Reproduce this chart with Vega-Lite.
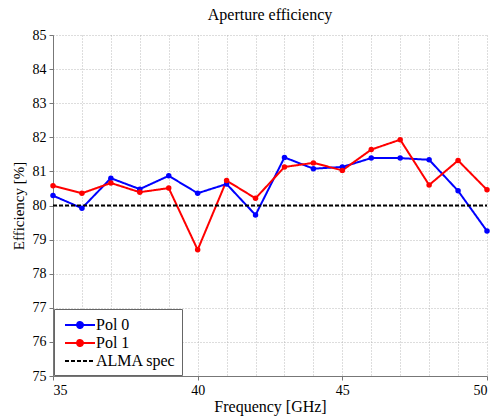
{
  "$schema": "https://vega.github.io/schema/vega-lite/v6.json",
  "width": 434,
  "height": 341,
  "autosize": {"type": "none"},
  "padding": {"left": 53, "top": 35, "right": 7, "bottom": 40},
  "title": {"text": "Aperture efficiency", "font": "Liberation Serif", "fontSize": 16, "fontWeight": "normal", "color": "black", "offset": 5},
  "config": {
    "view": {"stroke": null},
    "font": "Liberation Serif",
    "axis": {"labelFont": "Liberation Serif", "titleFont": "Liberation Serif", "labelOverlap": false, "labelColor": "black", "titleColor": "black", "titleFontWeight": "normal",
      "gridColor": "#aaaaaa", "gridDash": [1, 2], "gridWidth": 0.8, "domainColor": "#777777", "tickColor": "#777777", "tickSize": 4},
    "legend": {"labelFont": "Liberation Serif", "titleFont": "Liberation Serif"}
  },
  "data": {"values": [
    {"freq": 35, "eff": 80.29, "series": "Pol 0"},
    {"freq": 36, "eff": 79.92, "series": "Pol 0"},
    {"freq": 37, "eff": 80.8, "series": "Pol 0"},
    {"freq": 38, "eff": 80.48, "series": "Pol 0"},
    {"freq": 39, "eff": 80.87, "series": "Pol 0"},
    {"freq": 40, "eff": 80.36, "series": "Pol 0"},
    {"freq": 41, "eff": 80.63, "series": "Pol 0"},
    {"freq": 42, "eff": 79.72, "series": "Pol 0"},
    {"freq": 43, "eff": 81.41, "series": "Pol 0"},
    {"freq": 44, "eff": 81.08, "series": "Pol 0"},
    {"freq": 45, "eff": 81.13, "series": "Pol 0"},
    {"freq": 46, "eff": 81.39, "series": "Pol 0"},
    {"freq": 47, "eff": 81.39, "series": "Pol 0"},
    {"freq": 48, "eff": 81.34, "series": "Pol 0"},
    {"freq": 49, "eff": 80.43, "series": "Pol 0"},
    {"freq": 50, "eff": 79.25, "series": "Pol 0"},
    {"freq": 35, "eff": 80.58, "series": "Pol 1"},
    {"freq": 36, "eff": 80.36, "series": "Pol 1"},
    {"freq": 37, "eff": 80.66, "series": "Pol 1"},
    {"freq": 38, "eff": 80.39, "series": "Pol 1"},
    {"freq": 39, "eff": 80.51, "series": "Pol 1"},
    {"freq": 40, "eff": 78.7, "series": "Pol 1"},
    {"freq": 41, "eff": 80.73, "series": "Pol 1"},
    {"freq": 42, "eff": 80.21, "series": "Pol 1"},
    {"freq": 43, "eff": 81.13, "series": "Pol 1"},
    {"freq": 44, "eff": 81.25, "series": "Pol 1"},
    {"freq": 45, "eff": 81.03, "series": "Pol 1"},
    {"freq": 46, "eff": 81.64, "series": "Pol 1"},
    {"freq": 47, "eff": 81.93, "series": "Pol 1"},
    {"freq": 48, "eff": 80.6, "series": "Pol 1"},
    {"freq": 49, "eff": 81.32, "series": "Pol 1"},
    {"freq": 50, "eff": 80.46, "series": "Pol 1"},
    {"freq": 35, "eff": 80, "series": "ALMA spec"},
    {"freq": 50, "eff": 80, "series": "ALMA spec"}
  ]},
  "encoding": {
    "x": {"field": "freq", "type": "quantitative", "scale": {"domain": [35, 50], "nice": false},
      "axis": {"grid": true, "title": "Frequency [GHz]", "format": "d",
        "values": [35, 35.5, 36, 36.5, 37, 37.5, 38, 38.5, 39, 39.5, 40, 40.5, 41, 41.5, 42, 42.5, 43, 43.5, 44, 44.5, 45, 45.5, 46, 46.5, 47, 47.5, 48, 48.5, 49, 49.5, 50],
        "labelExpr": "datum.value % 5 === 0 ? datum.label : ''",
        "tickOpacity": {"condition": {"test": "datum.value % 5 !== 0", "value": 0}, "value": 1},
        "labelFontSize": 14, "titleFontSize": 16, "labelPadding": 3, "titlePadding": 1}},
    "y": {"field": "eff", "type": "quantitative", "scale": {"domain": [75, 85], "nice": false},
      "axis": {"grid": true, "title": "Efficiency [%]", "format": "d",
        "values": [75, 75.5, 76, 76.5, 77, 77.5, 78, 78.5, 79, 79.5, 80, 80.5, 81, 81.5, 82, 82.5, 83, 83.5, 84, 84.5, 85],
        "labelExpr": "datum.value % 1 === 0 ? datum.label : ''",
        "tickOpacity": {"condition": {"test": "datum.value % 1 !== 0", "value": 0}, "value": 1},
        "labelFontSize": 14, "titleFontSize": 15, "labelPadding": 3, "titlePadding": 6}}
  },
  "layer": [
    {
      "mark": {"type": "line", "strokeWidth": 2},
      "encoding": {
        "color": {"field": "series", "type": "nominal", "sort": ["Pol 0", "Pol 1", "ALMA spec"],
          "scale": {"domain": ["Pol 0", "Pol 1", "ALMA spec"], "range": ["#0000ff", "#ff0000", "#000000"]},
          "legend": {"title": null, "orient": "bottom-left", "offset": 1, "symbolType": "M-0.556,0L2.778,0", "symbolSize": 324, "symbolStrokeWidth": 2,
            "labelFontSize": 16, "labelColor": "black", "strokeColor": "#666666", "fillColor": "white", "padding": 6, "rowPadding": 0, "labelOffset": 16,
            "encode": {"symbols": {"update": {"shape": [{"test": "datum.value === 'ALMA spec'", "value": "M-0.556,0L2.778,0"}, {"value": "M-0.556,0L2.778,0M0.778,0A0.333,0.333 0 1 0 1.444,0A0.333,0.333 0 1 0 0.778,0"}], "fill": [{"test": "datum.value === 'ALMA spec'", "value": "transparent"}, {"scale": "color", "field": "value"}]}}}}},
        "strokeDash": {"field": "series", "type": "nominal", "sort": ["Pol 0", "Pol 1", "ALMA spec"],
          "scale": {"domain": ["Pol 0", "Pol 1", "ALMA spec"], "range": [[1, 0], [1, 0], [4, 2]]},
          "legend": {"title": null, "orient": "bottom-left", "offset": 1, "symbolType": "M-0.556,0L2.778,0", "symbolSize": 324, "symbolStrokeWidth": 2,
            "labelFontSize": 16, "labelColor": "black", "strokeColor": "#666666", "fillColor": "white", "padding": 6, "rowPadding": 0, "labelOffset": 16}}
      }
    },
    {
      "transform": [{"filter": "datum.series !== 'ALMA spec'"}],
      "mark": {"type": "circle", "size": 30, "opacity": 1},
      "encoding": {
        "color": {"field": "series", "type": "nominal", "legend": null}
      }
    }
  ]
}
